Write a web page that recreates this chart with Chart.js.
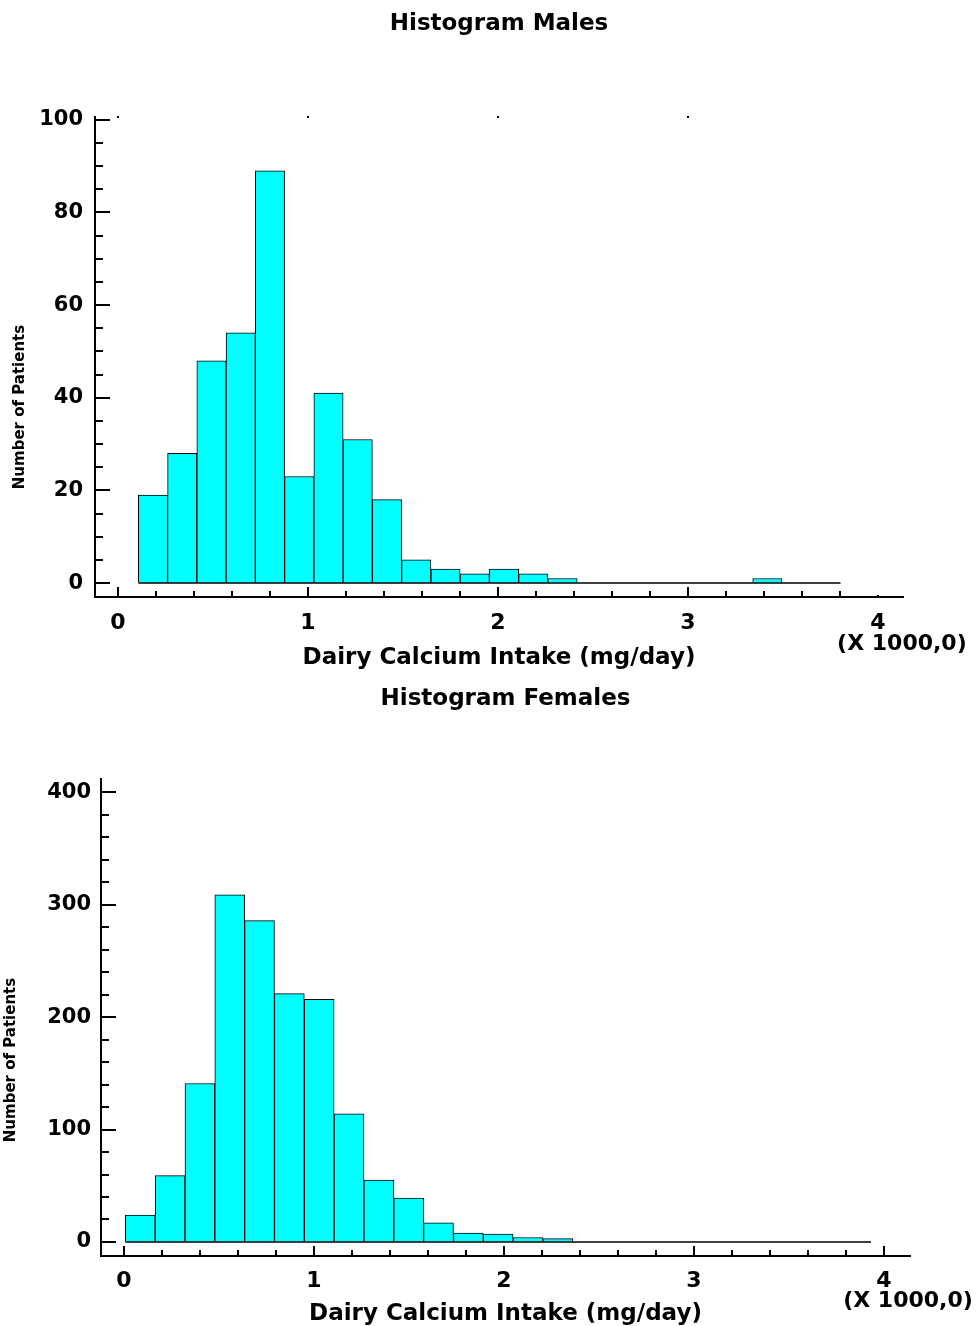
<!DOCTYPE html>
<html>
<head>
<meta charset="utf-8">
<script src="https://cdn.jsdelivr.net/npm/chart.js@4.4.1/dist/chart.umd.min.js"></script>
<style>
  html, body { margin: 0; padding: 0; background: #fff; overflow: hidden; }
  .wrap { position: absolute; left: 0; width: 976px; }
</style>
</head>
<body>
<div class="wrap" style="top:0;height:670px"><canvas id="males"></canvas></div>
<div class="wrap" style="top:670px;height:656px"><canvas id="females"></canvas></div>
<script>
// dairy calcium intake (mg/day), bins
const maleBinStart = 107;
const maleBinWidth = 154;
const maleCounts = [19, 28, 48, 54, 89, 23, 41, 31, 18, 5, 3, 2, 3, 2, 1, 0, 0, 0, 0, 0, 0, 1, 0, 0];

const femaleBinStart = 7;
const femaleBinWidth = 157;
const femaleCounts = [24, 59, 141, 309, 286, 221, 216, 114, 55, 39, 17, 8, 7, 4, 3, 0, 0, 0, 0, 0, 0, 0, 0, 0, 0];

const xTickValues = [0, 1000, 2000, 3000, 4000];
const xTickLabels = ['0', '1', '2', '3', '4'];
const maleYTicks = [0, 20, 40, 60, 80, 100];
const femaleYTicks = [0, 100, 200, 300, 400];

Chart.defaults.font.family = "'DejaVu Sans', sans-serif";
Chart.defaults.color = '#000';

// tick marks drawn inward, plus the rotated y title and the x multiplier note
const axisMarks = {
  id: 'axisMarks',
  afterDraw(chart, args, o) {
    const { ctx, chartArea: a, scales: { x, y } } = chart;
    ctx.save();
    ctx.strokeStyle = '#000';
    ctx.lineWidth = 2;
    ctx.beginPath();
    for (let v = 0; v <= x.max; v += o.xMinor) {
      const px = Math.round(x.getPixelForValue(v));
      let len = v % o.xMajor === 0 ? 10 : 6;
      if (o.shortLast && v === 4000) len = 2;
      ctx.moveTo(px, a.bottom);
      ctx.lineTo(px, a.bottom - len);
    }
    for (let v = 0; v <= y.max; v += o.yMinor) {
      const py = Math.round(y.getPixelForValue(v));
      const len = v % o.yMajor === 0 ? 15 : 8;
      ctx.moveTo(a.left, py);
      ctx.lineTo(a.left + len, py);
    }
    ctx.stroke();

    ctx.fillStyle = '#000';
    o.topDots.forEach(v => {
      const px = Math.round(x.getPixelForValue(v));
      ctx.fillRect(px - 1, a.top - 1, 2, 2);
    });

    ctx.font = "bold 22px 'DejaVu Sans'";
    ctx.textAlign = 'center';
    ctx.textBaseline = 'middle';
    ctx.fillText('(X 1000,0)', x.getPixelForValue(4000) + o.noteDx, a.bottom + o.noteDy);

    ctx.font = "bold 15px 'DejaVu Sans'";
    ctx.translate(o.yTitleX, o.yTitleY);
    ctx.rotate(-Math.PI / 2);
    ctx.fillText('Number of Patients', 0, 0);
    ctx.restore();
  }
};

function makeHistogram(id, cfg) {
  const end = cfg.binStart + cfg.binWidth * cfg.counts.length;
  const bars = cfg.counts.map((c, i) => ({ x: cfg.binStart + cfg.binWidth * (i + 0.5), y: c }));
  return new Chart(document.getElementById(id), {
    type: 'bar',
    data: {
      datasets: [{
        type: 'line',
        data: [{ x: cfg.binStart, y: 0 }, { x: end, y: 0 }],
        borderColor: '#000',
        borderWidth: 1.5,
        pointRadius: 0,
        order: 0
      }, {
        data: bars,
        backgroundColor: '#00FFFF',
        borderColor: '#000',
        borderWidth: 1,
        borderSkipped: 'start',
        barPercentage: 1,
        categoryPercentage: 1,
        order: 1
      }]
    },
    options: {
      responsive: true,
      maintainAspectRatio: false,
      animation: false,
      layout: { padding: { left: 0, right: cfg.padRight, top: 0, bottom: 0 } },
      plugins: {
        legend: { display: false },
        tooltip: { enabled: false },
        title: {
          display: true,
          text: cfg.title,
          fullSize: false,
          color: '#000',
          font: { size: 23, weight: 'bold' },
          padding: { top: cfg.titleTop, bottom: cfg.titleBottom }
        },
        axisMarks: cfg.marks
      },
      scales: {
        x: {
          type: 'linear',
          min: cfg.xMin,
          max: cfg.xMax,
          offset: false,
          afterBuildTicks: s => { s.ticks = xTickValues.map(v => ({ value: v })); },
          afterFit: s => { s.height = cfg.xHeight; },
          grid: { display: true, drawOnChartArea: false, drawTicks: false, offset: false },
          border: { display: true, color: '#000', width: 2 },
          ticks: {
            autoSkip: false,
            maxRotation: 0,
            padding: cfg.xTickPad,
            color: '#000',
            font: { size: 22, weight: 'bold' },
            callback: v => xTickLabels[xTickValues.indexOf(v)]
          },
          title: {
            display: true,
            text: 'Dairy Calcium Intake (mg/day)',
            color: '#000',
            font: { size: 23, weight: 'bold' },
            padding: { top: 0, bottom: cfg.xTitleBottom }
          }
        },
        y: {
          min: cfg.yMin,
          max: cfg.yMax,
          afterFit: s => { s.width = cfg.yWidth; },
          grid: { display: true, drawOnChartArea: false, drawTicks: false },
          border: { display: true, color: '#000', width: 2 },
          ticks: {
            stepSize: cfg.yStep,
            includeBounds: false,
            padding: cfg.yTickPad,
            color: '#000',
            font: { size: 21, weight: 'bold' },
            callback: v => cfg.yTicks.includes(v) ? String(v) : ''
          }
        }
      }
    },
    plugins: [axisMarks]
  });
}

makeHistogram('males', {
  title: 'Histogram Males',
  binStart: maleBinStart, binWidth: maleBinWidth, counts: maleCounts,
  yTicks: maleYTicks, yStep: 20,
  xMin: -121, xMax: 4132, yMin: -3, yMax: 100.6,
  padRight: 73, yWidth: 95, xHeight: 73,
  titleTop: 10, titleBottom: 79.4,
  xTickPad: 13, yTickPad: 12, xTitleBottom: -2,
  marks: { xMinor: 200, xMajor: 1000, yMinor: 5, yMajor: 20, shortLast: true,
           topDots: [0, 1000, 2000, 3000], noteDx: 24, noteDy: 47, yTitleX: 20, yTitleY: 407 }
});

makeHistogram('females', {
  title: 'Histogram Females',
  binStart: femaleBinStart, binWidth: femaleBinWidth, counts: femaleCounts,
  yTicks: femaleYTicks, yStep: 100,
  xMin: -121, xMax: 4137, yMin: -12.5, yMax: 412,
  padRight: 66, yWidth: 101, xHeight: 70,
  titleTop: 15, titleBottom: 66.4,
  xTickPad: 12, yTickPad: 10, xTitleBottom: -2,
  marks: { xMinor: 200, xMajor: 1000, yMinor: 20, yMajor: 100, shortLast: false,
           topDots: [], noteDx: 24, noteDy: 45, yTitleX: 11, yTitleY: 390 }
});
</script>
</body>
</html>
